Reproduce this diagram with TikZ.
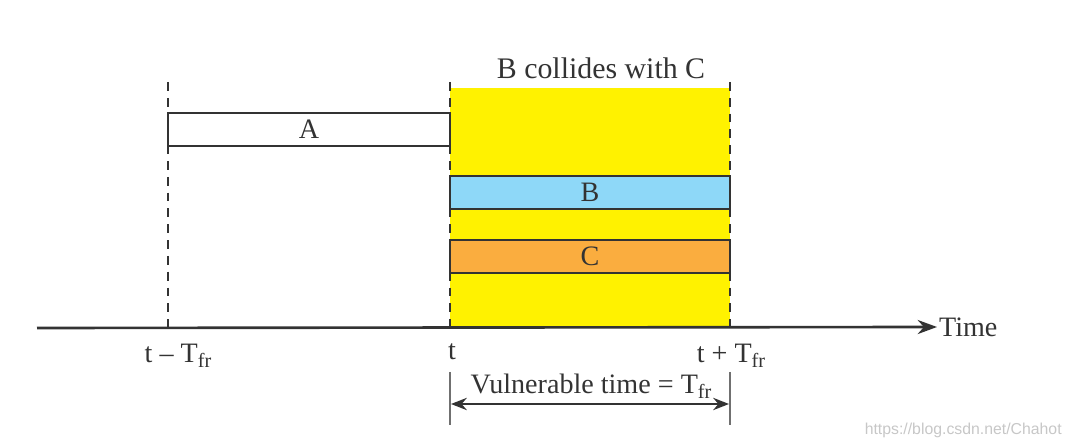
\documentclass[tikz,border=0pt]{standalone}
\usepackage{fontspec}
\setmainfont{Liberation Serif}
\usetikzlibrary{arrows.meta}
\definecolor{ylw}{HTML}{FFF200}
\definecolor{lblue}{HTML}{8ED8F8}
\definecolor{orng}{HTML}{FAAD3F}
\definecolor{ink}{HTML}{333333}
\newcommand{\subfr}{\raisebox{-0.4ex}{\fontsize{11.5}{12}\selectfont fr}}
\tikzset{
  frame/.style={draw=ink, line width=1.3pt, minimum height=0.66cm, inner sep=0pt, font=\fontsize{16}{18}\selectfont},
  lbl/.style={font=\fontsize{16}{18}\selectfont, text=ink, inner sep=1pt},
  guide/.style={draw=ink, dashed, dash pattern=on 5pt off 4pt, line width=0.8pt},
  tick/.style={draw=ink!70, line width=0.8pt}
}
\begin{document}
\begin{tikzpicture}[x=0.02cm,y=-0.02cm]
\useasboundingbox (0,0) rectangle (1071,448);
% yellow window
\fill[ylw] (450,88) rectangle (730,328);
% dashed guides
\coordinate (g1t) at (168,82); \coordinate (g1b) at (168,328);
\coordinate (g2t) at (450,82); \coordinate (g2b) at (450,328);
\coordinate (g3t) at (730,82); \coordinate (g3b) at (730,328);
\draw[guide] (g1t) -- (g1b);
\draw[guide] (g2t) -- (g2b);
\draw[guide] (g3t) -- (g3b);
% frames
\node[frame, fill=white, minimum width=5.64cm, text=ink] (A) at (309,129.5) {A};
\node[frame, fill=lblue, minimum width=5.6cm, text=ink] (B) at (590,192.5) {B};
\node[frame, fill=orng, minimum width=5.6cm, text=ink] (C) at (590,256.5) {C};
% axis
\coordinate (ax0) at (37,328);
\node[lbl, anchor=west] (time) at (937,327) {Time};
\draw[ink, line width=1.5pt, -{Stealth[length=11pt,width=8pt]}] (ax0) -- (time.west);
% title
\node[lbl, font=\fontsize{17}{19}\selectfont] (title) at (601,68) {B collides with C};
% labels
\node[lbl] (l1) at (178,356) {t – T\subfr};
\node[lbl] (l2) at (452,352) {t};
\node[lbl] (l3) at (731,356) {t + T\subfr};
% vulnerable time
\coordinate (v1t) at (450,372); \coordinate (v1b) at (450,425);
\coordinate (v2t) at (730,372); \coordinate (v2b) at (730,425);
\draw[tick] (v1t) -- (v1b);
\draw[tick] (v2t) -- (v2b);
\coordinate (va) at (451,404); \coordinate (vb) at (729,404);
\draw[ink, line width=1.2pt, {Stealth[length=9pt,width=7pt]}-{Stealth[length=9pt,width=7pt]}] (va) -- (vb);
\node[lbl] (vt) at (591,386) {Vulnerable time = T\subfr};
% watermark
\node[font=\fontspec{Liberation Sans}\fontsize{9}{10}\selectfont, text=black!22, anchor=east, inner sep=0pt] (wm) at (1062,430) {https://blog.csdn.net/Chahot};
\end{tikzpicture}
\end{document}
